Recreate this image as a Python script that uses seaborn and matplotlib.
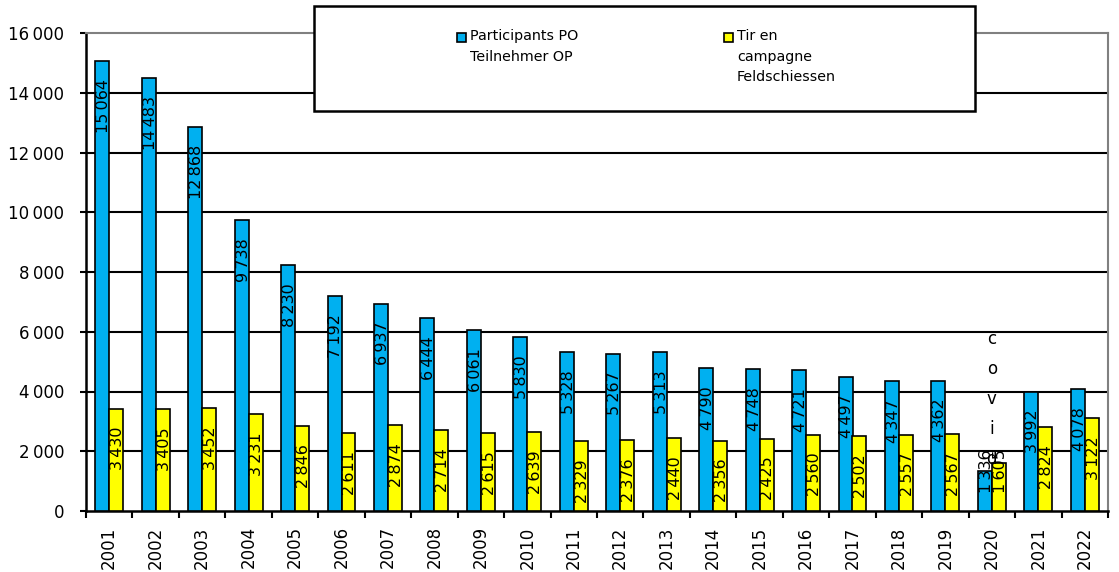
import matplotlib
matplotlib.use("Agg")
import matplotlib.pyplot as plt
import matplotlib.patches as mpatches
import matplotlib.ticker as mticker
import seaborn as sns
import pandas as pd

years = [str(y) for y in range(2001, 2023)]
participants_po = [15064, 14483, 12868, 9738, 8230, 7192, 6937, 6444, 6061, 5830,
                   5328, 5267, 5313, 4790, 4748, 4721, 4497, 4347, 4362, 1336, 3992, 4078]
tir_campagne = [3430, 3405, 3452, 3231, 2846, 2611, 2874, 2714, 2615, 2639,
                2329, 2376, 2440, 2356, 2425, 2560, 2502, 2557, 2567, 1605, 2824, 3122]
series_names = ["Participants PO\nTeilnehmer OP", "Tir en\ncampagne\nFeldschiessen"]
y_ticks = list(range(0, 16001, 2000))
covid_year = "2020"
covid_note = "c\no\nv\ni\nd"

BLUE = "#00B0F0"
YELLOW = "#FFFF00"

df = pd.DataFrame({
    "year": years * 2,
    "value": participants_po + tir_campagne,
    "series": [series_names[0]] * len(years) + [series_names[1]] * len(years),
})

sns.set_theme(style="white")
plt.rcParams["font.family"] = ["DejaVu Sans"]

fig = plt.figure(figsize=(11.19, 5.72), dpi=100)
ax = fig.add_axes([86 / 1119, 61 / 572, (1108 - 86) / 1119, (511 - 33) / 572])

sns.barplot(data=df, x="year", y="value", hue="series", order=years,
            hue_order=series_names, palette=[BLUE, YELLOW], width=0.6,
            edgecolor="black", linewidth=1.2, saturation=1, legend=False, ax=ax, zorder=3)

ax.set_xlim(-0.5, len(years) - 0.5)
ax.set_ylim(0, 16000)
ax.set_xlabel("")
ax.set_ylabel("")

def fmt(v):
    s = f"{int(v):,}"
    return s.replace(",", "\u202f")

ax.yaxis.set_major_locator(mticker.FixedLocator(y_ticks))
ax.yaxis.set_major_formatter(mticker.FuncFormatter(lambda v, p: fmt(v)))
ax.tick_params(axis="y", direction="out", length=4.5, width=1.5, color="black",
               labelsize=12, pad=11, left=True)
ax.tick_params(axis="x", which="major", length=0, labelsize=12, rotation=90, pad=11)
ax.xaxis.set_minor_locator(mticker.FixedLocator([i - 0.5 for i in range(len(years) + 1)]))
ax.tick_params(axis="x", which="minor", direction="out", length=5, width=1.5,
               color="black", bottom=True)
for lab in ax.get_xticklabels() + ax.get_yticklabels():
    lab.set_color("black")

ax.grid(False)
for v in y_ticks[1:-1]:
    ax.axhline(v, color="black", lw=1.5, zorder=1)

for side in ["left", "bottom"]:
    ax.spines[side].set_color("black")
    ax.spines[side].set_linewidth(1.8)
for side in ["top", "right"]:
    ax.spines[side].set_color("#808080")
    ax.spines[side].set_linewidth(1.5)
    ax.spines[side].set_visible(True)

# data labels
for cont, vals in zip(ax.containers, [participants_po, tir_campagne]):
    for rect, v in zip(cont.patches, vals):
        xc = rect.get_x() + rect.get_width() / 2
        if v > 2000:
            ax.annotate(fmt(v), (xc, v), xytext=(1, -13), textcoords="offset points",
                        rotation=90, ha="center", va="top", fontsize=11.5,
                        color="black", zorder=5)
        else:
            ax.annotate(fmt(v), (xc, 0), xytext=(1, 13), textcoords="offset points",
                        rotation=90, ha="center", va="bottom", fontsize=11.5,
                        color="black", zorder=5)

ax.text(years.index(covid_year), 6050, covid_note, ha="center", va="top",
        fontsize=12, linespacing=1.85, color="black", zorder=6)

# legend box
box = mpatches.Rectangle((314 / 1119, 1 - 111 / 572), (975 - 314) / 1119, (111 - 6) / 572,
                         transform=fig.transFigure, facecolor="white",
                         edgecolor="black", lw=1.8, zorder=10)
fig.patches.append(box)
for (mx, tx, col, lab) in [(457, 470, BLUE, series_names[0]), (724, 737, YELLOW, series_names[1])]:
    sq = mpatches.Rectangle((mx / 1119, 1 - 42 / 572), 9 / 1119, 9 / 572,
                            transform=fig.transFigure, facecolor=col,
                            edgecolor="black", lw=1.2, zorder=11)
    fig.patches.append(sq)
    fig.text(tx / 1119, 1 - 29 / 572, lab, ha="left", va="top", fontsize=10.3,
             linespacing=1.6, color="black", zorder=12)

fig.savefig("out.png", dpi=100)
